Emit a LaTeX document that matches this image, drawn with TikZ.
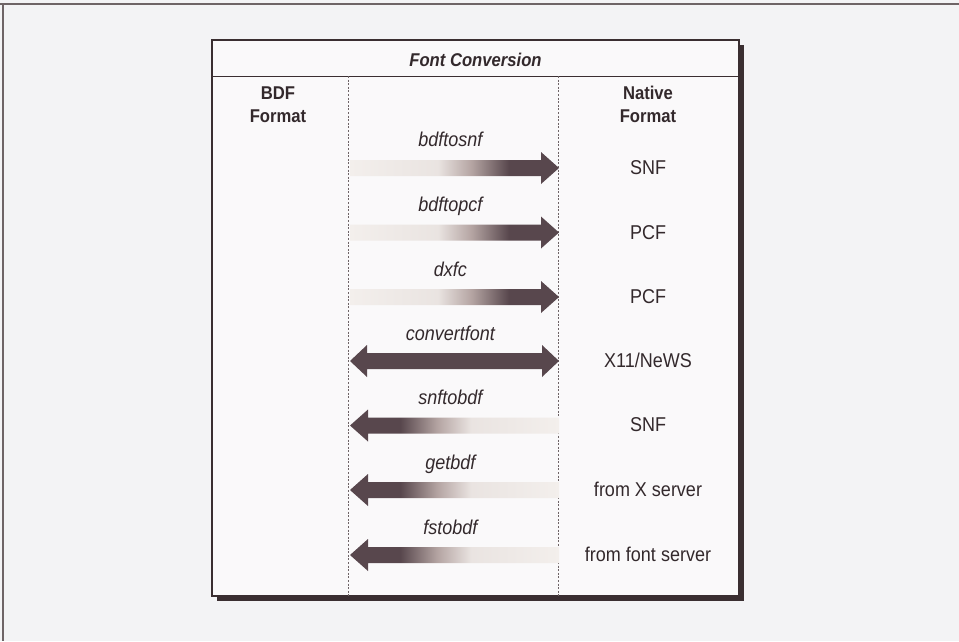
\documentclass[tikz,border=0pt]{standalone}
\usepackage{fontspec}
\setmainfont{Liberation Sans}
\newfontfamily\narrowsans[FakeStretch=0.9]{Liberation Sans}
\newfontfamily\titlesans[FakeStretch=0.9]{Liberation Sans}
\usetikzlibrary{calc}

\definecolor{pagebg}{HTML}{F3F3F5}
\definecolor{boxbg}{HTML}{FAF9FA}
\definecolor{ink}{HTML}{33292C}
\definecolor{frame}{HTML}{3A2E31}
\definecolor{rule}{HTML}{6E6466}
\definecolor{arrdark}{HTML}{58474D}
\definecolor{arrmid}{HTML}{B5A5A3}
\definecolor{arrlight}{HTML}{F3EFEC}

% gradient fills for the one-way arrows (path spans 25bp..75bp)
\pgfdeclarehorizontalshading{toright}{100bp}{%
  color(0bp)=(arrlight); color(25bp)=(arrlight); color(46bp)=(arrlight!85!arrmid);
  color(54bp)=(arrmid); color(63bp)=(arrdark); color(75bp)=(arrdark); color(100bp)=(arrdark)}
\pgfdeclarehorizontalshading{toleft}{100bp}{%
  color(0bp)=(arrdark); color(25bp)=(arrdark); color(37bp)=(arrdark); color(46bp)=(arrmid);
  color(54bp)=(arrlight!85!arrmid); color(75bp)=(arrlight); color(100bp)=(arrlight)}

% fat arrow pointing right: #1 tail, #2 tip, #3 shading
\newcommand\fatright[3]{%
  \shade[shading=#3] ($(#1)+(0,-8)$) -- ($(#2)+(-18,-8)$) -- ($(#2)+(-18,-16)$) -- (#2)
    -- ($(#2)+(-18,16)$) -- ($(#2)+(-18,8)$) -- ($(#1)+(0,8)$) -- cycle;}
% fat arrow pointing left: #1 tip, #2 tail, #3 shading
\newcommand\fatleft[3]{%
  \shade[shading=#3] (#1) -- ($(#1)+(18,-16)$) -- ($(#1)+(18,-8)$) -- ($(#2)+(0,-8)$)
    -- ($(#2)+(0,8)$) -- ($(#1)+(18,8)$) -- ($(#1)+(18,16)$) -- cycle;}

\tikzset{
  txt/.style={text=ink, font=\narrowsans\fontsize{20}{23}\selectfont, inner sep=0pt},
  tool/.style={txt, font=\narrowsans\fontsize{20}{23}\selectfont\itshape, anchor=base},
  native/.style={txt, anchor=base},
  colhead/.style={txt, font=\narrowsans\fontsize{18.5}{23}\selectfont\bfseries, align=center, anchor=base},
  divider/.style={rule, line width=0.7pt, dash pattern=on 2pt off 1.6pt},
}

\begin{document}
\begin{tikzpicture}[x=1pt, y=-1pt]
  % page
  \fill[pagebg] (0,0) rectangle (959,641);
  \useasboundingbox (0,0) rectangle (959,641);
  \draw[rule, line width=1.2pt] (0,4) -- (959,4);
  \draw[rule, line width=1.2pt] (3,4) -- (3,641);

  % panel with drop shadow
  \fill[frame] (217,45) rectangle (744,601);
  \fill[boxbg] (212,40) rectangle (739,596);
  \draw[frame, line width=1.3pt] (212,40) rectangle (739,596);
  \draw[frame, line width=1pt] (212,76) -- (739,76);
  \node[txt, font=\titlesans\fontsize{18.5}{20}\selectfont\bfseries\itshape, anchor=base] (title) at (475.5,66) {Font Conversion};

  % column dividers
  \coordinate (d1t) at (348,76);  \coordinate (d1b) at (348,596);
  \coordinate (d2t) at (558,76);  \coordinate (d2b) at (558,596);
  \draw[divider] (d1t) -- (d1b);
  \draw[divider] (d2t) -- (d2b);

  % column headings (baseline of the second line given)
  \node[colhead] (bdf) at (278,122) {BDF\\Format};
  \node[colhead] (nat) at (648,122) {Native\\Format};

  % arrow end points per row
  \foreach \i/\y in {1/168,2/232.5,3/297,4/361,5/425.5,6/490,7/555}{
    \coordinate (L\i) at (350,\y);
    \coordinate (R\i) at (559,\y);
  }

  % tool names
  \node[tool] (t1) at ($(L1)!0.48!(R1)+(0,-22)$) {bdftosnf};
  \node[tool] (t2) at ($(L2)!0.48!(R2)+(0,-21)$) {bdftopcf};
  \node[tool] (t3) at ($(L3)!0.48!(R3)+(0,-21)$) {dxfc};
  \node[tool] (t4) at ($(L4)!0.48!(R4)+(0,-21)$) {convertfont};
  \node[tool] (t5) at ($(L5)!0.48!(R5)+(0,-21)$) {snftobdf};
  \node[tool] (t6) at ($(L6)!0.48!(R6)+(0,-21)$) {getbdf};
  \node[tool] (t7) at ($(L7)!0.48!(R7)+(0,-21)$) {fstobdf};

  % native formats
  \node[native] (n1) at (648,174.5) {SNF};
  \node[native] (n2) at (648,239) {PCF};
  \node[native] (n3) at (648,303.5) {PCF};
  \node[native] (n4) at (648,367.5) {X11/NeWS};
  \node[native] (n5) at (648,431.5) {SNF};
  \node[native] (n6) at (648,496) {from X server};
  \node[native] (n7) at (648,561) {from font server};

  % conversion arrows
  \fatright{L1}{R1}{toright}
  \fatright{L2}{R2}{toright}
  \fatright{L3}{R3}{toright}
  \fill[arrdark] (L4) -- ($(L4)+(17,-16)$) -- ($(L4)+(17,-8)$) -- ($(R4)+(-17,-8)$)
    -- ($(R4)+(-17,-16)$) -- (R4) -- ($(R4)+(-17,16)$) -- ($(R4)+(-17,8)$)
    -- ($(L4)+(17,8)$) -- ($(L4)+(17,16)$) -- cycle;
  \fatleft{L5}{R5}{toleft}
  \fatleft{L6}{R6}{toleft}
  \fatleft{L7}{R7}{toleft}
\end{tikzpicture}
\end{document}
